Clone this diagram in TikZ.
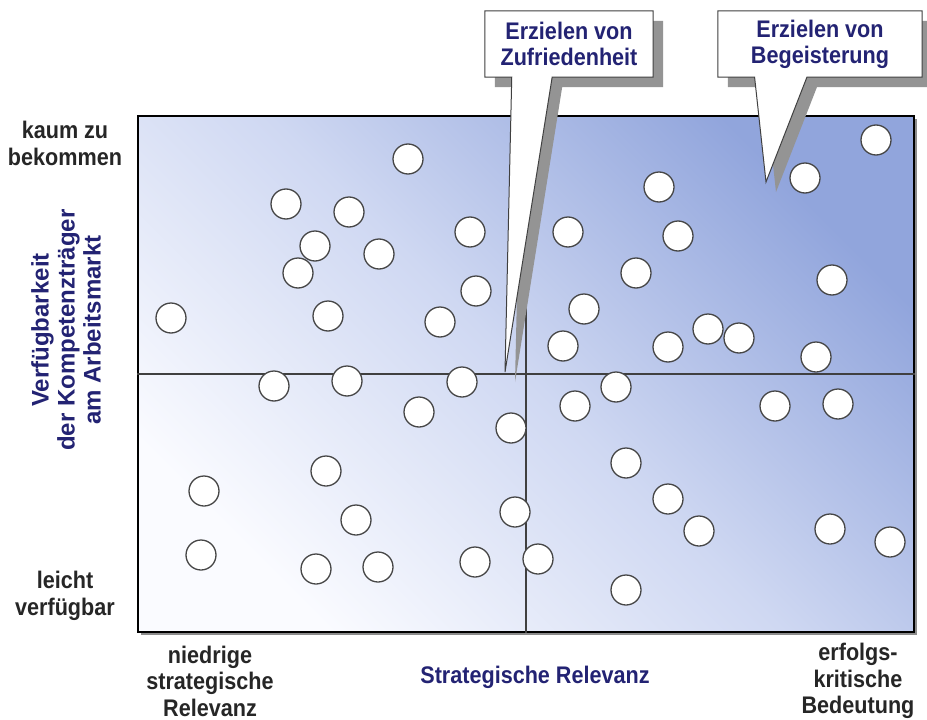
\documentclass[tikz,border=0pt]{standalone}
\usepackage{fontspec}
\setmainfont{Liberation Sans}
\newfontfamily\labelfamily[FakeStretch=0.9]{Liberation Sans}
\usepackage{tikz}
\usetikzlibrary{
        shadows,
        calc
    }
\pgfdeclarelayer{front}
\pgfsetlayers{main,front}
\definecolor{navytext}{RGB}{35,35,115}
\definecolor{fieldblue}{RGB}{145,165,220}
\definecolor{fieldmid}{RGB}{207,216,242}
\definecolor{fieldwhite}{RGB}{250,251,255}
\definecolor{rimgray}{RGB}{70,70,70}

\begin{document}
\begin{tikzpicture}
[x=1pt, y=-1pt,
labelfont/.style={font=\labelfamily\fontsize{24}{27}\selectfont\bfseries},
axislabel/.style={labelfont, align=center, text=black!85, inner sep=0pt},
axistitle/.style={labelfont, align=center, text=navytext, inner sep=0pt},
field/.style={draw=black, line width=2.4pt, minimum width=776pt, minimum height=516pt, top color=fieldblue, bottom color=fieldwhite, middle color=fieldmid, shading angle=-45, drop shadow={shadow xshift=3pt, shadow yshift=-3pt, fill=black!45, opacity=1}},
midline/.style={draw=black!75, line width=1.2pt},
dot/.style={circle, draw=rimgray, line width=1.3pt, fill=white, minimum size=30pt, inner sep=0pt},
calloutbox/.style={font=\labelfamily\fontsize{24}{26}\selectfont\bfseries, align=center, text=navytext, minimum width=168pt, minimum height=66pt, inner sep=0pt},
calloutline/.style={draw=black!75, line width=1pt, fill=white, drop shadow={shadow xshift=10pt, shadow yshift=-10pt, fill=black!42, opacity=1}},
]
    \fill[white] (0,0) rectangle (927,720);
    \useasboundingbox (0,0) rectangle (927,720);

    % portfolio field
    \node[field] (field) at (526,374) {};
    \draw[midline] (field.north) -- (field.south);
    \draw[midline] (field.west) -- (field.east);

    \foreach \x/\y [count=\i] in {408/159, 876/140, 805/178, 659/187, 286/204, 349/212, 470/232, 568/232,
        678/236, 315/246, 379/254, 636/273, 298/273, 832/280, 476/291, 584/309, 171/318, 328/316,
        440/322, 708/329, 739/338, 563/346, 668/347, 816/357, 274/386, 347/381, 462/382, 616/387,
        419/412, 575/406, 775/406, 838/404, 511/428, 626/463, 326/471, 204/491, 668/499, 356/520,
        515/512, 699/531, 830/529, 890/542, 201/555, 316/569, 378/567, 475/562, 538/559, 626/590}
        \node[dot] (c\i) at (\x,\y) {};

    % axis labels
    \node[axislabel] (scarce) at (65,143) {kaum zu\\bekommen};
    \node[axislabel] (easy) at (65,596) {leicht\\verfügbar};
    \node[axistitle, rotate=90, font=\fontsize{24}{26}\selectfont\bfseries] (avail) at (66,330) {Verfügbarkeit\\der Kompetenzträger\\am Arbeitsmarkt};
    \node[axislabel, font=\labelfamily\fontsize{24}{26.5}\selectfont\bfseries] (lowrel) at (210,681) {niedrige\\strategische\\Relevanz};
    \node[axistitle] (relevance) at (535,677) {Strategische Relevanz};
    \node[axislabel, font=\labelfamily\fontsize{24}{26.5}\selectfont\bfseries] (critical) at (858,681) {erfolgs-\\kritische\\Bedeutung};

    % callouts
    \begin{pgfonlayer}{front}
    \node[calloutbox] (satisf) at (569,44) {Erzielen von\\Zufriedenheit};
    \node[calloutbox, minimum width=204pt] (delight) at (820,44) {Erzielen von\\Begeisterung};
    \end{pgfonlayer}
    \coordinate (satisftip) at (505,372);
    \coordinate (delighttip) at (766,182);
    \draw[calloutline] (satisf.north west) -- (satisf.north east) -- (satisf.south east)
        -- ($(satisf.south west)!0.40!(satisf.south east)$) -- (satisftip)
        -- ($(satisf.south west)!0.16!(satisf.south east)$) -- (satisf.south west) -- cycle;
    \draw[calloutline] (delight.north west) -- (delight.north east) -- (delight.south east)
        -- ($(delight.south west)!0.436!(delight.south east)$) -- (delighttip)
        -- ($(delight.south west)!0.18!(delight.south east)$) -- (delight.south west) -- cycle;
\end{tikzpicture}
\end{document}
